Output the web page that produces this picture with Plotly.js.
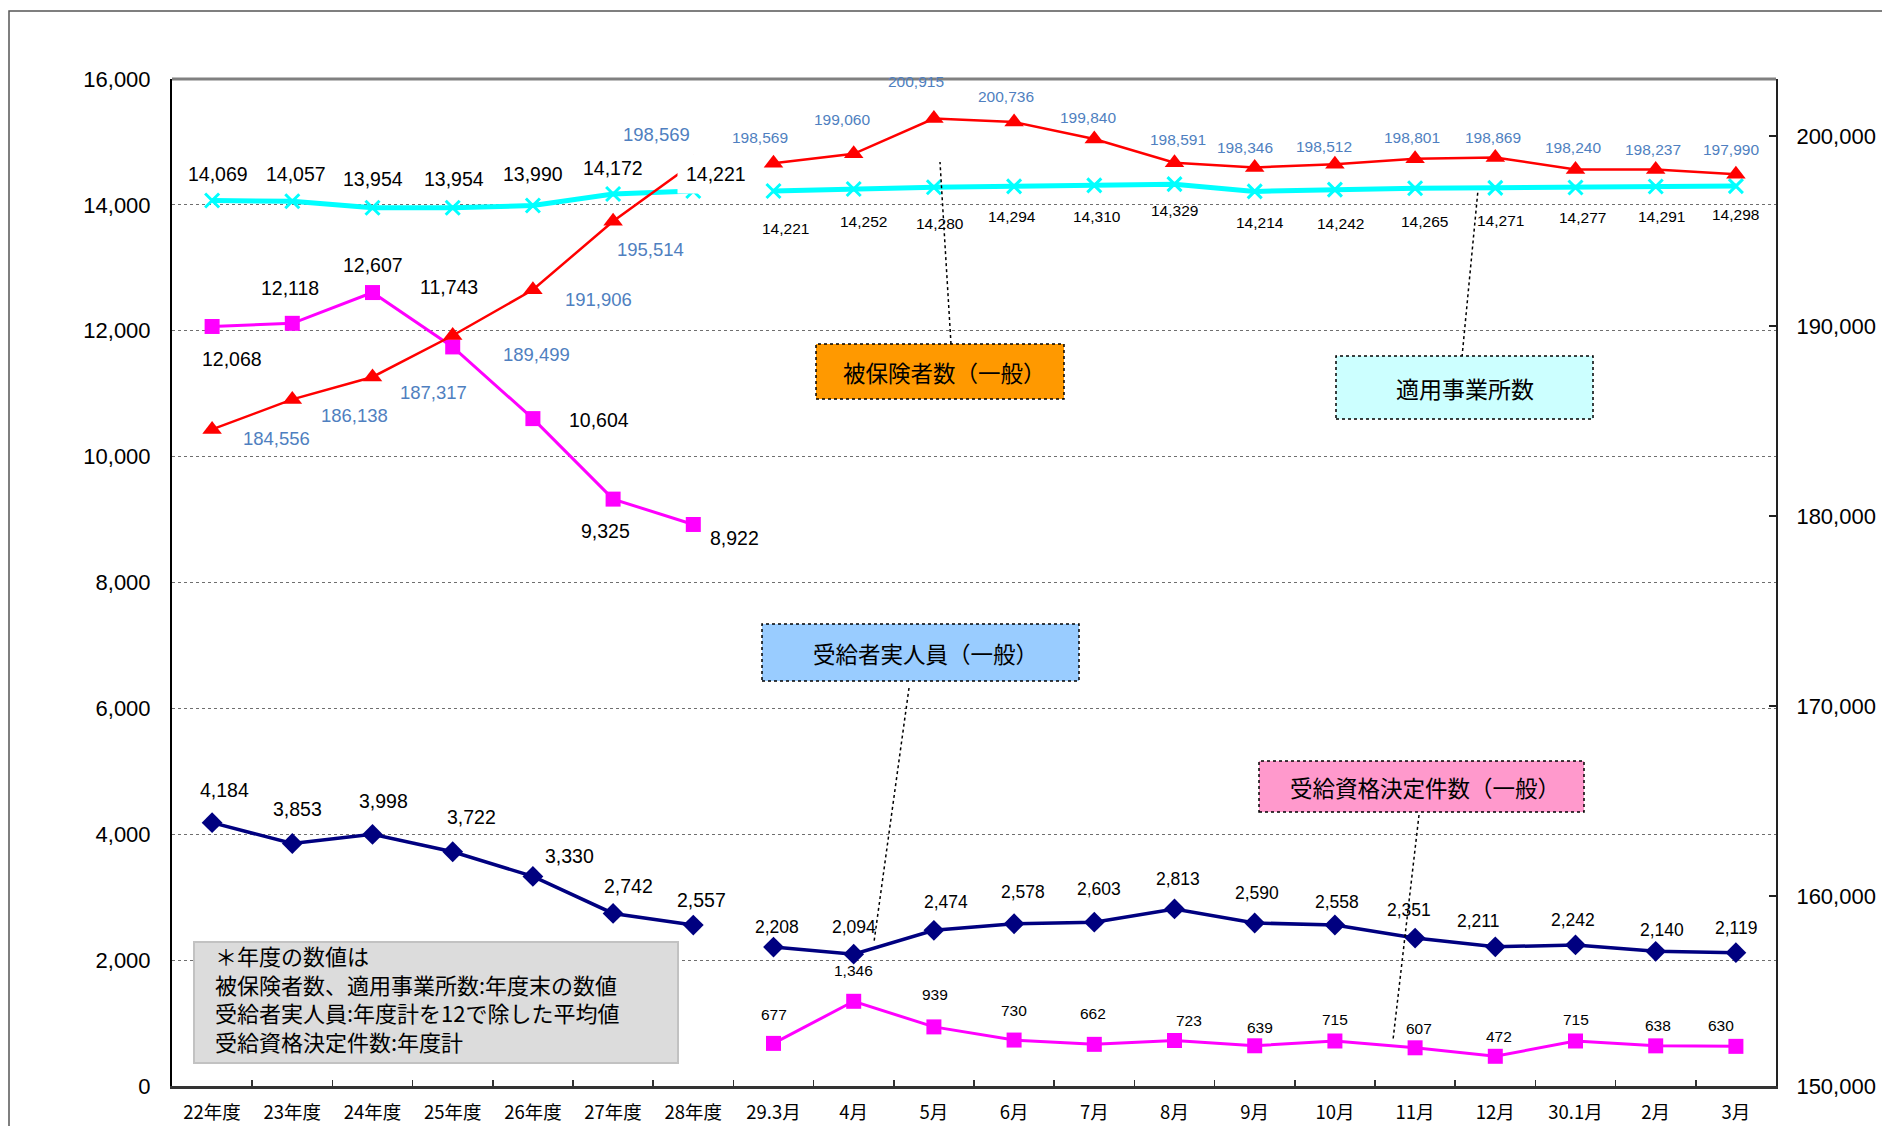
<!DOCTYPE html>
<html>
<head>
<meta charset="utf-8">
<script src="https://cdn.plot.ly/plotly-3.0.1.min.js"></script>
<style>html,body{margin:0;padding:0;background:#fff;}#chart{width:1882px;height:1126px;}</style>
</head>
<body>
<div id="chart"></div>
<script>
// ---- categories ----
const yearCats = ['22年度','23年度','24年度','25年度','26年度','27年度','28年度'];
const monthCats = ['29.3月','4月','5月','6月','7月','8月','9月','10月','11月','12月','30.1月','2月','3月'];

// ---- series values ----
const insuredYear = [184556,186138,187317,189499,191906,195514,198569];
const insuredMonth = [198569,199060,200915,200736,199840,198591,198346,198512,198801,198869,198240,198237,197990];
const officesYear = [14069,14057,13954,13954,13990,14172,14221];
const officesMonth = [14221,14252,14280,14294,14310,14329,14214,14242,14265,14271,14277,14291,14298];
const recipientsYear = [4184,3853,3998,3722,3330,2742,2557];
const recipientsMonth = [2208,2094,2474,2578,2603,2813,2590,2558,2351,2211,2242,2140,2119];
const decisionsYear = [12068,12118,12607,11743,10604,9325,8922];
const decisionsMonth = [677,1346,939,730,662,723,639,715,607,472,715,638,630];

// ---- axis ticks ----
const leftTicks = [0,2000,4000,6000,8000,10000,12000,14000,16000];
const rightTicks = [150000,160000,170000,180000,190000,200000];

// ---- label offsets (screen px, dx right, dy down) ----
const offInsuredY = [[64,9],[62,16],[61,16],[84,19],[66,10],[37,28],[-37,-29]];
const offInsuredM = [[-14,-26],[-12,-34],[-18,-37],[-8,-26],[-6,-22],[3,-23],[-10,-20],[-11,-18],[-3,-21],[-2,-20],[-3,-22],[-3,-20],[-5,-25]];
const offOfficesY = [[6,-27],[4,-27],[0,-29],[1,-29],[0,-32],[0,-26],[23,-17]];
const offOfficesM = [[12,38],[10,32],[6,36],[-2,30],[3,31],[0,26],[5,31],[6,34],[9,33],[5,33],[7,30],[6,30],[0,28]];
const offRecipY = [[12,-33],[5,-35],[11,-33],[19,-35],[37,-20],[15,-27],[8,-25]];
const offRecipM = [[3,-20],[0,-27],[12,-28],[9,-32],[5,-33],[3,-30],[2,-30],[2,-23],[-6,-28],[-17,-26],[-3,-25],[6,-21],[1,-25]];
const offDecY = [[20,33],[-2,-35],[0,-28],[-4,-60],[66,1],[-8,32],[41,14]];
const offDecM = [[0,-29],[0,-31],[1,-32],[0,-30],[-1,-31],[14,-20],[5,-18],[0,-22],[4,-19],[4,-20],[0,-22],[2,-20],[-15,-21]];

const NUMFONT = 'Liberation Sans, Arial, sans-serif';
const JPFONT = 'Noto Sans CJK JP, sans-serif';
const allCats = yearCats.concat(monthCats);

function seg(x, y, color, width, symbol, msize, yaxis, mline) {
  return {
    x: x, y: y, type: 'scatter', mode: 'lines+markers', yaxis: yaxis,
    line: {color: color, width: width},
    marker: {symbol: symbol, size: msize, color: color, line: mline || {width: 0}},
    hoverinfo: 'skip', cliponaxis: false
  };
}

const traces = [
  seg(yearCats, officesYear, '#00FFFF', 5, 'x-thin-open', 14, 'y', {width: 3, color: '#00FFFF'}),
  seg(monthCats, officesMonth, '#00FFFF', 5, 'x-thin-open', 14, 'y', {width: 3, color: '#00FFFF'}),
  seg(yearCats, decisionsYear, '#FF00FF', 3, 'square', 15, 'y'),
  seg(monthCats, decisionsMonth, '#FF00FF', 3, 'square', 15, 'y'),
  seg(yearCats, recipientsYear, '#000080', 3.5, 'diamond', 16, 'y'),
  seg(monthCats, recipientsMonth, '#000080', 3.5, 'diamond', 16, 'y'),
  seg(yearCats, insuredYear, '#FF0000', 2.5, 'triangle-up', 17, 'y2'),
  seg(monthCats, insuredMonth, '#FF0000', 2.5, 'triangle-up', 17, 'y2')
];

const fmt = v => v.toLocaleString('en-US');
const annotations = [];
function labels(cats, vals, offs, yref, color, size, bg) {
  cats.forEach((c, i) => {
    const a = {
      x: c, y: vals[i], xref: 'x', yref: yref, text: fmt(vals[i]), showarrow: false,
      xanchor: 'center', yanchor: 'middle', xshift: offs[i][0], yshift: -offs[i][1],
      font: {family: NUMFONT, size: size, color: color}
    };
    if (bg && bg[i]) { a.bgcolor = '#FFFFFF'; a.borderpad = 8; }
    annotations.push(a);
  });
}
const BLUE = '#4F7FC0';
labels(yearCats, officesYear, offOfficesY, 'y', '#000', 19.5, [0,0,0,0,0,0,1]);
labels(monthCats, officesMonth, offOfficesM, 'y', '#000', 15.5);
labels(yearCats, insuredYear, offInsuredY, 'y2', BLUE, 18.5);
labels(monthCats, insuredMonth, offInsuredM, 'y2', BLUE, 15.5);
labels(yearCats, recipientsYear, offRecipY, 'y', '#000', 19.5);
labels(monthCats, recipientsMonth, offRecipM, 'y', '#000', 17.5);
labels(yearCats, decisionsYear, offDecY, 'y', '#000', 19.5);
labels(monthCats, decisionsMonth, offDecM, 'y', '#000', 15.5);

// pixel -> paper helpers for decorations
const L = 172, R = 106, T = 79, B = 40, W = 1882, H = 1126;
const PW = W - L - R, PH = H - T - B;
const px = p => (p - L) / PW;
const py = p => (H - B - p) / PH;

const shapes = [];
function box(x0, y0, x1, y1, fill, line) {
  shapes.push({type: 'rect', xref: 'paper', yref: 'paper', x0: px(x0), x1: px(x1), y0: py(y1), y1: py(y0),
    fillcolor: fill, line: line, layer: 'above'});
}
function leader(x0, y0, x1, y1) {
  shapes.push({type: 'line', xref: 'paper', yref: 'paper', x0: px(x0), x1: px(x1), y0: py(y0), y1: py(y1),
    line: {color: '#000', width: 1.5, dash: 'dot'}, layer: 'above'});
}
function boxText(cx, cy, text, size) {
  annotations.push({xref: 'paper', yref: 'paper', x: px(cx), y: py(cy), text: text, showarrow: false,
    xanchor: 'center', yanchor: 'middle', font: {family: JPFONT, size: size, color: '#000'}});
}

// outer frame
shapes.push({type: 'rect', xref: 'paper', yref: 'paper', x0: px(9), x1: px(1960), y0: py(1200), y1: py(11),
  line: {color: '#555', width: 1.5}, fillcolor: 'rgba(0,0,0,0)', layer: 'below'});
// top border of plot
shapes.push({type: 'line', xref: 'paper', yref: 'paper', x0: 0, x1: 1, y0: 1, y1: 1,
  line: {color: '#808080', width: 3}, layer: 'above'});

// callouts
const dotLine = {color: '#000', width: 1.5, dash: 'dot'};
leader(951, 344, 940, 162);
leader(1462, 357, 1478, 190);
leader(909, 688, 874, 942);
leader(1419, 815, 1393, 1040);
box(816, 344, 1064, 399, '#FF9900', dotLine);
box(1336, 356, 1593, 419, '#CCFFFF', dotLine);
box(762, 624, 1079, 681, '#99CCFF', dotLine);
box(1259, 761, 1584, 812, '#FF99CC', dotLine);
boxText(944, 372, '被保険者数（一般）', 22.5);
boxText(1465, 388, '適用事業所数', 23);
boxText(925, 653, '受給者実人員（一般）', 22.5);
boxText(1425, 787, '受給資格決定件数（一般）', 22.5);

// note box
box(194, 942, 678, 1063, '#DCDCDC', {color: '#C2C2C2', width: 2});
const noteLines = ['＊年度の数値は', '被保険者数、適用事業所数:年度末の数値', '受給者実人員:年度計を12で除した平均値', '受給資格決定件数:年度計'];
annotations.push({xref: 'paper', yref: 'paper', x: px(213), y: py(998), text: noteLines.join('<br>'), showarrow: false,
  xanchor: 'left', yanchor: 'middle', align: 'left', font: {family: JPFONT, size: 22, color: '#000'}});

const layout = {
  width: W, height: H,
  margin: {l: L, r: R, t: T, b: B, pad: 0},
  paper_bgcolor: '#FFFFFF', plot_bgcolor: '#FFFFFF',
  showlegend: false,
  xaxis: {
    type: 'category', categoryorder: 'array', categoryarray: allCats, range: [-0.5, allCats.length - 0.5],
    showgrid: false, zeroline: false, showline: true, linecolor: '#333', linewidth: 3,
    ticks: 'inside', tickson: 'boundaries', ticklen: 6, tickwidth: 1.5, tickcolor: '#333',
    tickfont: {family: JPFONT, size: 18.5, color: '#000'}, ticklabelstandoff: 8, fixedrange: true
  },
  yaxis: {
    range: [0, 16000], tickvals: leftTicks, ticktext: leftTicks.map(fmt),
    showgrid: true, gridcolor: '#6F6F6F', gridwidth: 1, griddash: 'dot', zeroline: false,
    showline: true, linecolor: '#000', linewidth: 2, ticks: '',
    tickfont: {family: NUMFONT, size: 22, color: '#000'}, ticklabelstandoff: 15
  },
  yaxis2: {
    overlaying: 'y', side: 'right', range: [150000, 203000], tickvals: rightTicks, ticktext: rightTicks.map(fmt),
    showgrid: false, zeroline: false, showline: true, linecolor: '#222', linewidth: 2,
    ticks: 'inside', ticklen: 7, tickwidth: 1.5, tickcolor: '#222',
    tickfont: {family: NUMFONT, size: 22, color: '#000'}, ticklabelstandoff: 14
  },
  annotations: annotations,
  shapes: shapes
};

Plotly.newPlot('chart', traces, layout, {staticPlot: true, displayModeBar: false});
</script>
</body>
</html>
